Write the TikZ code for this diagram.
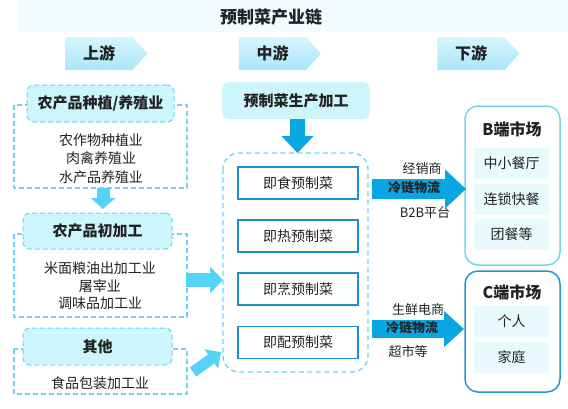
\documentclass[tikz,border=0pt]{standalone}
\usepackage{fontspec}
\setmainfont{Noto Sans CJK SC}
\usetikzlibrary{shapes.symbols,arrows.meta}
\definecolor{titlebg}{HTML}{F3FBFE}
\definecolor{stagetop}{HTML}{D6F5FD}
\definecolor{stagebot}{HTML}{A9E6F8}
\definecolor{hdrfill}{HTML}{CCF6FC}
\definecolor{dashblue}{HTML}{6ED3F2}
\definecolor{lightarrow}{HTML}{55D3F7}
\definecolor{darkarrow}{HTML}{0AA6E4}
\definecolor{boxblue}{HTML}{1E8FD0}
\definecolor{mktlight}{HTML}{78D3F2}
\definecolor{mktdark}{HTML}{2A93D2}
\definecolor{mktitem}{HTML}{E9FAFD}
\definecolor{txt}{HTML}{222222}
\tikzset{
  stage/.style={signal, signal to=east, signal pointer angle=96, top color=stagetop, bottom color=stagebot,
    draw=none, minimum width=82pt, minimum height=33pt, inner sep=0pt, text=txt,
    font=\fontsize{16pt}{18pt}\selectfont\bfseries},
  grpframe/.style={draw=dashblue, line width=1.2pt, dash pattern=on 5pt off 3pt},
  hdr/.style={draw=dashblue, line width=1pt, dash pattern=on 5pt off 3pt, fill=hdrfill, rounded corners=7pt,
    inner sep=0pt, text=txt, font=\fontsize{15pt}{18pt}\selectfont\bfseries},
  items/.style={align=center, inner sep=0pt, text=txt},
  prod/.style={draw=boxblue, line width=1.5pt, fill=white, minimum width=120pt, minimum height=32pt,
    inner sep=0pt, text=txt, font=\fontsize{14pt}{16pt}\selectfont},
  lbl/.style={inner sep=0pt, text=txt, font=\fontsize{13pt}{15pt}\selectfont},
  mkt/.style={line width=1.5pt, rounded corners=13pt, fill=white},
  mkttitle/.style={inner sep=0pt, text=txt, font=\fontsize{16pt}{18pt}\selectfont\bfseries},
  mktitem/.style={fill=mktitem, minimum width=75pt, minimum height=31pt, inner sep=0pt, text=txt,
    font=\fontsize{14pt}{16pt}\selectfont},
}
\begin{document}
\begin{tikzpicture}[x=1pt,y=-1pt]
\useasboundingbox (0,0) rectangle (568,408);
% title band
\fill[titlebg] (18,0) rectangle (568,32);
\node[inner sep=0pt, text=txt, font=\fontsize{17pt}{20pt}\selectfont\bfseries] (title) at (271,17) {预制菜产业链};
% stages
\node[stage] (up) at (99,53.5) {上游};
\node[stage] (mid) at (272.5,53.5) {中游};
\node[stage] (down) at (471,53.5) {下游};

% ---- left group 1
\draw[grpframe] (14,105) rectangle (187,188);
\node[hdr, minimum width=147pt, minimum height=37pt] (h1) at (100.5,103.5) {农产品种植/养殖业};
\node[items, font=\fontsize{14pt}{18.5pt}\selectfont] (i1) at (101,158.5) {农作物种植业\\肉禽养殖业\\水产品养殖业};
% ---- left group 2
\draw[grpframe] (14,234) rectangle (187,317);
\node[hdr, minimum width=149pt, minimum height=36pt] (h2) at (97.5,231) {农产品初加工};
\node[items, font=\fontsize{14pt}{17.5pt}\selectfont] (i2) at (100,286) {米面粮油出加工业\\屠宰业\\调味品加工业};
% ---- left group 3
\draw[grpframe] (14,349) rectangle (187,394);
\node[hdr, minimum width=149pt, minimum height=37pt] (h3) at (97.5,346.5) {其他};
\node[items, font=\fontsize{14pt}{16pt}\selectfont] (i3) at (100,383) {食品包装加工业};

% arrow group1 -> group2
\coordinate (g1b) at (103,188);
\coordinate (g2t) at (103,209);
\draw[lightarrow, line width=13pt, -{Triangle[length=11pt,width=24pt]}] (g1b) -- (g2t);

% ---- middle
\node[fill=hdrfill, rounded corners=7pt, minimum width=148pt, minimum height=37pt, inner sep=0pt, text=txt,
  font=\fontsize{15pt}{18pt}\selectfont\bfseries] (mh) at (296,100.5) {预制菜生产加工};
\draw[dashblue, line width=1.3pt, dash pattern=on 5pt off 3.5pt, rounded corners=16pt] (223,153) rectangle (368,372);
\coordinate (ct) at (297.5,153);
\draw[darkarrow, line width=15pt, -{Triangle[length=17pt,width=31pt]}] (mh.south -| ct) -- (ct);
\node[prod] (p1) at (298,183) {即食预制菜};
\node[prod] (p2) at (298,236) {即热预制菜};
\node[prod] (p3) at (298,289) {即烹预制菜};
\node[prod] (p4) at (298,342.5) {即配预制菜};

% arrows from left groups into middle
\coordinate (g2r) at (186,280);
\coordinate (cl) at (223,280);
\draw[lightarrow, line width=14pt, -{Triangle[length=13pt,width=26pt]}] (g2r) -- (cl);
\coordinate (g3r) at (193,372);
\coordinate (cl2) at (221,352);
\draw[lightarrow, line width=11pt, -{Triangle[length=12pt,width=23pt]}] (g3r) -- (cl2);

% ---- right markets
\draw[mkt, draw=mktlight] (465,106) rectangle (560,265);
\coordinate (bl) at (466,189);
\node[mkttitle] (bt) at (512,129) {B端市场};
\node[mktitem] (b1) at (511.5,163.5) {中小餐厅};
\node[mktitem] (b2) at (511.5,199.5) {连锁快餐};
\node[mktitem] (b3) at (511.5,234.5) {团餐等};

\draw[mkt, draw=mktdark] (465,271) rectangle (560,392);
\coordinate (cl3) at (464,329);
\node[mkttitle] (ctt) at (512,292) {C端市场};
\node[mktitem] (c1) at (511.5,321.5) {个人};
\node[mktitem] (c2) at (511.5,357.5) {家庭};

% arrows to markets
\coordinate (mr1) at (372,189);
\draw[darkarrow, line width=20pt, -{Triangle[length=21pt,width=38pt]}] (mr1) -- (bl);
\node[lbl, font=\fontsize{13pt}{15pt}\selectfont\bfseries] (cc1) at (414,188) {冷链物流};
\node[lbl] (l1) at (422,169) {经销商};
\node[lbl] (l2) at (425,213) {B2B平台};

\coordinate (mr2) at (372,329);
\draw[darkarrow, line width=18pt, -{Triangle[length=20pt,width=35pt]}] (mr2) -- (cl3);
\node[lbl, font=\fontsize{13pt}{15pt}\selectfont\bfseries] (cc2) at (412,328) {冷链物流};
\node[lbl] (l3) at (418,310) {生鲜电商};
\node[lbl] (l4) at (408,352) {超市等};
\end{tikzpicture}
\end{document}
